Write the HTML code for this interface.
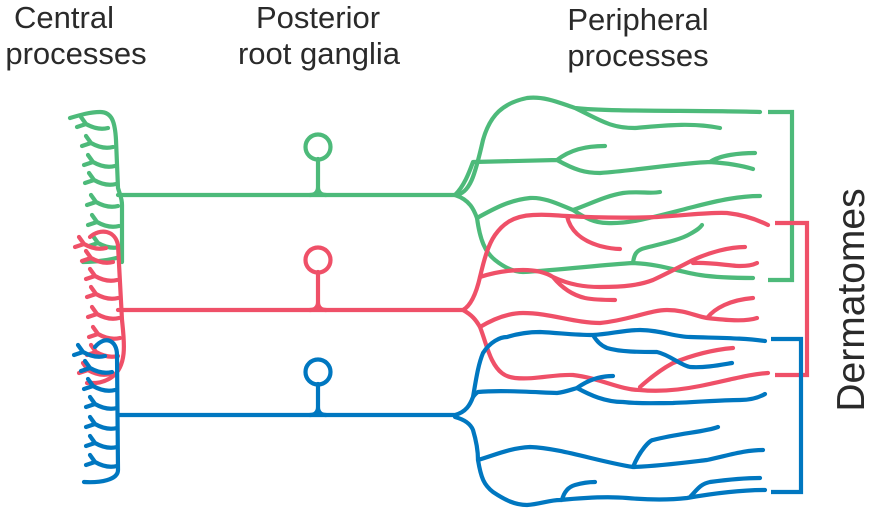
<!DOCTYPE html>
<html><head><meta charset="utf-8"><style>
html,body{margin:0;padding:0;background:#fff;}
svg{display:block;}
text{font-family:"Liberation Sans",Arial,sans-serif;fill:#2a2a2a;}
</style></head><body>
<svg width="873" height="508" viewBox="0 0 873 508" xmlns="http://www.w3.org/2000/svg">
<defs>
<path id="tw" d="M0,0 C-8,2 -15,0 -22,-4 M-22,-4 l-5,-7 M-22,-4 l-9,3" fill="none"/>
</defs>
<g font-size="31" text-anchor="middle">
<text x="64" y="28">Central</text>
<text x="76" y="64">processes</text>
<text x="318" y="28">Posterior</text>
<text x="319" y="64">root ganglia</text>
<text x="638" y="30">Peripheral</text>
<text x="638" y="66">processes</text>
<text transform="translate(864,300) rotate(-90)" font-size="39">Dermatomes</text>
</g>
<g fill="none" stroke-width="4.2" stroke-linecap="round" stroke-linejoin="round">
<!-- GREEN -->
<g stroke="#4dba7a">
<path d="M70,118 C80,115 90,112 100,112 C112,112 115,122 116,140 L118,188 C120,195 122,198 122,205 L122,262"/>
<path d="M118,195 L455,195 C470,194 475,175 483,140 C490,115 503,103 527,98 C545,96 560,103 575,108 C610,112 700,110 760,112 M575,108 C600,120 610,128 635,128 C660,126 690,122 720,128"/>
<path d="M455,195 C465,185 470,170 473,162 L557,160 C570,150 585,146 605,146 M557,160 C575,170 585,173 600,173 C640,170 680,163 710,162 C720,155 740,153 755,153 M710,162 C725,163 740,165 753,169"/>
<path d="M455,195 C470,200 474,210 477,218 C495,208 510,200 530,198 C545,197 560,205 573,210 C590,204 605,196 623,193 C640,191 650,194 660,192 M573,210 C585,218 595,223 607,223 C630,224 650,218 693,207 C720,200 740,196 760,196"/>
<path d="M477,218 C480,240 485,252 495,260 C505,268 515,272 523,272 C560,270 600,265 633,263 C660,264 680,272 700,275 C720,278 740,278 753,278 M633,263 C634,255 636,250 645,248 C660,244 680,240 690,234 C697,230 700,228 702,225"/>
<path d="M768,112 L792,112 L792,280 L768,280" stroke-linecap="butt" stroke-linejoin="miter"/>
<circle cx="318" cy="147" r="12.5"/>
<path d="M318,159 L318,187 C318,193 314,195 310,195 M318,187 C318,193 322,195 326,195"/>
<use href="#tw" x="108" y="128"/><use href="#tw" x="113" y="147"/><use href="#tw" x="115" y="166"/><use href="#tw" x="116" y="184"/><use href="#tw" x="118" y="206"/><use href="#tw" x="119" y="226"/><use href="#tw" x="120" y="247"/>
<path d="M120,257 C110,260 95,262 83,262"/>
</g>
<!-- RED -->
<g stroke="#ef5068">
<path d="M90,237 C100,228 115,230 118,245 L122,320 C124,340 128,365 112,377 C102,384 94,383 87,383"/>
<path d="M118,310 L463,310 C472,305 477,290 480,277 C484,260 488,245 495,235 C502,225 512,216 533,215 C550,214 560,216 567,216 C600,218 630,218 657,217 C690,215 710,212 727,213 C745,215 758,220 768,225 M567,216 C570,230 580,240 600,246 C608,248 614,249 620,249"/>
<path d="M480,277 C495,272 510,270 523,270 C535,270 545,272 553,277 C570,285 585,287 600,287 C625,287 640,285 653,280 C670,272 685,264 693,260 C710,252 730,247 745,247 M693,263 C710,262 730,266 740,266 C750,266 755,264 757,263 M553,277 C562,288 572,295 585,298 C595,300 605,300 615,300"/>
<path d="M463,310 C472,315 476,320 480,327 C495,318 510,313 523,313 C550,313 575,323 600,323 C630,320 650,310 667,310 C685,310 695,316 707,318 C725,320 745,322 757,318 M707,318 C715,308 730,300 753,298"/>
<path d="M480,327 C485,340 487,350 492,360 C498,372 505,377 515,378 C535,380 555,374 573,375 C600,378 620,390 640,390 C660,392 680,390 700,386 C730,380 750,374 768,373 M640,387 C650,378 660,370 673,363 C690,356 710,350 733,348"/>
<path d="M775,223 L807,223 L807,375 L775,375" stroke-linecap="butt" stroke-linejoin="miter"/>
<circle cx="318" cy="260" r="12.5"/>
<path d="M318,272 L318,302 C318,308 314,310 310,310 M318,302 C318,308 322,310 326,310"/>
<use href="#tw" x="106" y="248"/><use href="#tw" x="113" y="262"/><use href="#tw" x="117" y="280"/><use href="#tw" x="118" y="298"/><use href="#tw" x="119" y="318"/><use href="#tw" x="120" y="338"/><use href="#tw" x="118" y="356"/><use href="#tw" x="110" y="374"/>
</g>
<!-- BLUE -->
<g stroke="#0077c0">
<path d="M95,347 C105,335 117,340 117,355 L118,470 C118,480 100,483 84,482"/>
<path d="M118,415 L455,415 C466,412 470,405 473,397 C476,380 478,365 483,353 C490,342 500,337 507,337 C520,333 530,332 540,332 C560,333 575,335 593,335 C610,334 625,330 640,330 C660,330 675,337 690,337 C720,338 745,338 765,341 M593,335 C597,342 602,346 607,348 C620,352 640,352 657,352 C670,355 680,365 690,367 C705,368 720,365 732,363"/>
<path d="M473,397 C476,393 478,392 478,392 C500,390 530,392 557,393 C565,392 570,390 577,388 C590,395 605,402 623,402 C640,404 655,403 673,403 C700,402 720,400 740,400 C750,400 758,398 765,394 M577,388 C588,380 600,376 613,376"/>
<path d="M455,417 C466,420 471,425 473,430 C476,440 478,450 478,460 C495,455 510,448 530,447 C560,448 600,462 633,467 C660,466 690,462 707,460 C730,455 745,450 763,450 M633,467 C640,450 650,440 653,440 C680,433 705,432 718,427"/>
<path d="M478,460 C481,478 484,485 493,492 C505,500 515,505 527,505 C540,504 550,500 560,500 C580,498 605,496 627,498 C650,500 670,500 687,498 C710,494 740,490 765,490 M562,500 C564,492 568,487 575,485 C582,483 590,482 595,482 M690,497 C697,490 700,484 710,482 C725,480 745,478 760,478"/>
<path d="M771,339 L801,339 L801,492 L771,492" stroke-linecap="butt" stroke-linejoin="miter"/>
<circle cx="318" cy="372" r="12.5"/>
<path d="M318,384 L318,407 C318,413 314,415 310,415 M318,407 C318,413 322,415 326,415"/>
<use href="#tw" x="105" y="356"/><use href="#tw" x="112" y="372"/><use href="#tw" x="115" y="390"/><use href="#tw" x="117" y="408"/><use href="#tw" x="117" y="428"/><use href="#tw" x="117" y="447"/><use href="#tw" x="117" y="466"/>
</g>
</g>
</svg>
</body></html>
